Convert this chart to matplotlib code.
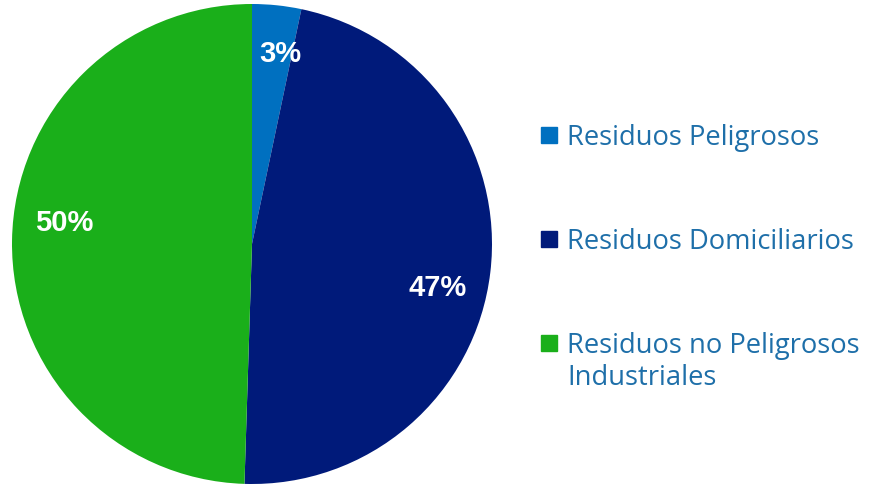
import numpy as np
import matplotlib.pyplot as plt
from matplotlib.patches import Rectangle

# Data
labels = ['Residuos Peligrosos', 'Residuos Domiciliarios', 'Residuos no Peligrosos\nIndustriales']
values = [3.3, 47.2, 49.5]
pct_labels = ['3%', '47%', '50%']
colors = ['#0070C0', '#001A7A', '#1AAF1A']

W, H = 870, 484
fig = plt.figure(figsize=(W / 100, H / 100), dpi=100)

# pie occupies a 480px square, left edge at x=12
ax = fig.add_axes([12 / W, 0 / H, 480 / W, 480 / H])
wedges, _ = ax.pie(values, colors=colors, startangle=90, counterclock=False,
                   radius=1, wedgeprops=dict(linewidth=0))
ax.set_xlim(-1, 1)
ax.set_ylim(-1, 1)
ax.set_aspect('equal')
ax.axis('off')

# percent label positions (pie coordinates, as placed in the original)
label_pos = [(0.117, 0.79), (0.775, -0.183), (-0.783, 0.087)]
for txt, (x, y) in zip(pct_labels, label_pos):
    ax.text(x, y, txt, ha='center', va='center', color='white', fontsize=21,
            fontweight='bold', family='Liberation Sans')

# legend drawn manually: baselines in pixels
baselines = [145, 249, 353]
for lab, col, yb in zip(labels, colors, baselines):
    fig.patches.append(Rectangle((541 / W, 1 - (yb - 2) / H), 16 / W, 16 / H,
                                 transform=fig.transFigure, color=col))
    for k, line in enumerate(lab.split('\n')):
        fig.text(567 / W, 1 - (yb + 32 * k) / H, line, ha='left', va='baseline',
                 color='#1E6FA9', fontsize=19.7, family='Open Sans')

fig.savefig('out.png', dpi=100)
